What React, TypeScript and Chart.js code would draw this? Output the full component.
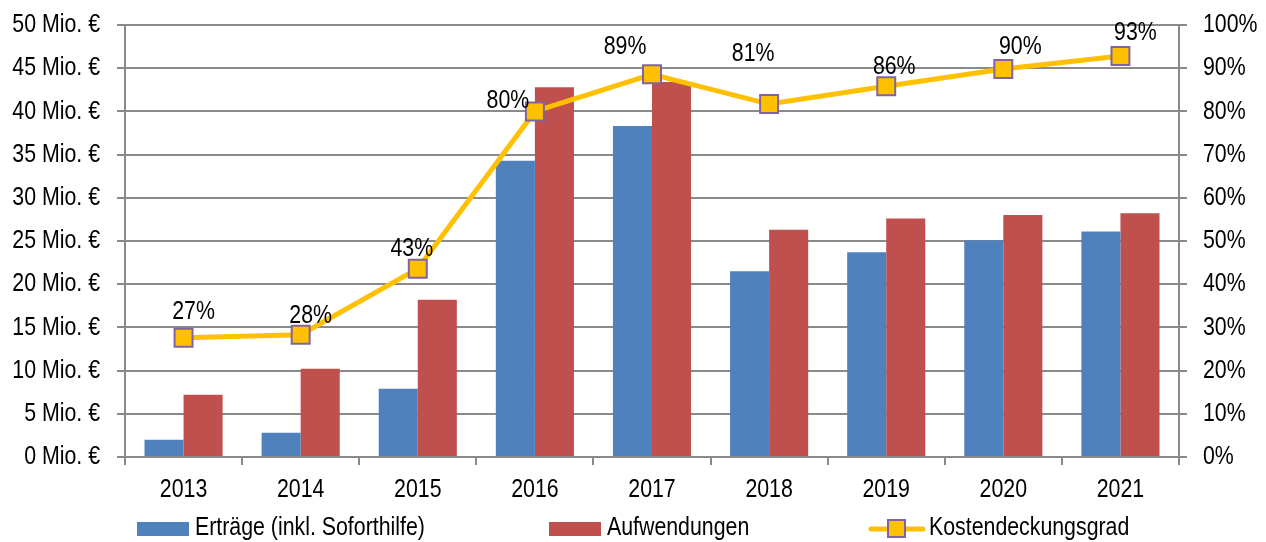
import React, { useEffect, useRef } from "react";
import { Chart, registerables } from "chart.js";

Chart.register(...registerables);

const years = ["2013", "2014", "2015", "2016", "2017", "2018", "2019", "2020", "2021"];
const ertraege = [2.0, 2.8, 7.9, 34.3, 38.3, 21.5, 23.7, 25.1, 26.1];
const aufwendungen = [7.2, 10.2, 18.2, 42.8, 43.4, 26.3, 27.6, 28.0, 28.2];
const deckung = [27.6, 28.3, 43.6, 80.0, 88.6, 81.7, 85.8, 89.8, 92.8];
const deckungLabels = ["27%", "28%", "43%", "80%", "89%", "81%", "86%", "90%", "93%"];

const seriesNames = ["Erträge (inkl. Soforthilfe)", "Aufwendungen", "Kostendeckungsgrad"];
const leftTickSuffix = " Mio. €";
const rightTickSuffix = "%";

// label placement offsets (style, relative to point)
const labelShift: [number, number][] = [
  [10, -26], [10, -19], [-6, -20], [-27, -11], [-27, -27], [-16, -50], [8, -20], [17, -22], [15, -23],
];

const FONT = "'Liberation Sans', Arial, sans-serif";
const FS = 26;
const NARROW = 0.82;
const BLUE = "#4F81BD";
const RED = "#C0504D";
const GOLD = "#FFC000";
const PURPLE = "#8064A2";
const GRID = "#8a8a8a";

function narrowText(ctx: CanvasRenderingContext2D, text: string, x: number, y: number, align: CanvasTextAlign) {
  ctx.save();
  ctx.translate(x, y);
  ctx.scale(NARROW, 1);
  ctx.textAlign = align;
  ctx.fillText(text, 0, 0);
  ctx.restore();
}

const textPlugin = {
  id: "narrowTexts",
  afterDraw(chart: any) {
    const ctx: CanvasRenderingContext2D = chart.ctx;
    ctx.save();
    ctx.font = `${FS}px ${FONT}`;
    ctx.fillStyle = "#000";
    ctx.textBaseline = "middle";
    const ys = chart.scales.y;
    const y1 = chart.scales.y1;
    const xs = chart.scales.x;
    ys.ticks.forEach((t: any) => {
      narrowText(ctx, `${t.value}${leftTickSuffix}`, ys.right - 8 - 17, ys.getPixelForValue(t.value), "right");
    });
    y1.ticks.forEach((t: any) => {
      narrowText(ctx, `${t.value}${rightTickSuffix}`, y1.left + 8 + 16, y1.getPixelForValue(t.value), "left");
    });
    years.forEach((lab, i) => {
      narrowText(ctx, lab, xs.getPixelForValue(i), xs.top + 33, "center");
    });
    // percentage labels
    const meta = chart.getDatasetMeta(2);
    meta.data.forEach((pt: any, i: number) => {
      const [dx, dy] = labelShift[i];
      narrowText(ctx, deckungLabels[i], pt.x + dx, pt.y + dy, "center");
    });
    // legend
    const cy = 528;
    ctx.fillStyle = BLUE;
    ctx.fillRect(137, 522, 52, 14);
    ctx.fillStyle = "#000";
    narrowText(ctx, seriesNames[0], 195, cy, "left");
    ctx.fillStyle = RED;
    ctx.fillRect(549, 522, 52, 14);
    ctx.fillStyle = "#000";
    narrowText(ctx, seriesNames[1], 607, cy, "left");
    ctx.strokeStyle = GOLD;
    ctx.lineWidth = 5;
    ctx.lineCap = "round";
    ctx.beginPath();
    ctx.moveTo(871, 529);
    ctx.lineTo(923, 529);
    ctx.stroke();
    ctx.fillStyle = GOLD;
    ctx.fillRect(888, 520, 17, 17);
    ctx.strokeStyle = PURPLE;
    ctx.lineWidth = 2;
    ctx.strokeRect(888, 520, 17, 17);
    ctx.fillStyle = "#000";
    narrowText(ctx, seriesNames[2], 929, cy, "left");
    ctx.restore();
  },
};

export default function App() {
  const ref = useRef<HTMLCanvasElement | null>(null);
  useEffect(() => {
    if (!ref.current) return;
    const chart = new Chart(ref.current, {
      type: "bar",
      data: {
        labels: years,
        datasets: [
          {
            type: "bar",
            label: seriesNames[0],
            data: ertraege,
            backgroundColor: BLUE,
            yAxisID: "y",
            order: 2,
            categoryPercentage: 0.667,
            barPercentage: 1,
          },
          {
            type: "bar",
            label: seriesNames[1],
            data: aufwendungen,
            backgroundColor: RED,
            yAxisID: "y",
            order: 2,
            categoryPercentage: 0.667,
            barPercentage: 1,
          },
          {
            type: "line",
            label: seriesNames[2],
            data: deckung,
            yAxisID: "y1",
            order: 0,
            borderColor: GOLD,
            borderWidth: 5,
            backgroundColor: GOLD,
            pointStyle: "rect",
            pointRadius: 12.7,
            pointBorderColor: PURPLE,
            pointBorderWidth: 2,
            pointBackgroundColor: GOLD,
            tension: 0,
          } as any,
        ],
      },
      options: {
        animation: false,
        responsive: true,
        maintainAspectRatio: false,
        layout: { padding: { top: 25, left: 0, right: 0, bottom: 0 } },
        plugins: {
          legend: { display: false },
          tooltip: { enabled: false },
        },
        scales: {
          x: {
            grid: {
              display: true,
              drawOnChartArea: false,
              drawTicks: true,
              tickLength: 8,
              offset: true,
              color: GRID,
              lineWidth: 2,
            },
            border: { display: false },
            ticks: { display: false },
            afterFit(scale: any) {
              scale.height = 85;
            },
          },
          y: {
            position: "left",
            min: 0,
            max: 50,
            grid: { color: GRID, lineWidth: 2, tickLength: 8, drawTicks: true },
            border: { display: true, color: GRID, width: 2 },
            ticks: { stepSize: 5, display: false },
            afterFit(scale: any) {
              scale.width = 125;
            },
          },
          y1: {
            position: "right",
            min: 0,
            max: 100,
            grid: { drawOnChartArea: false, color: GRID, lineWidth: 2, tickLength: 8, drawTicks: true },
            border: { display: true, color: GRID, width: 2 },
            ticks: { stepSize: 10, display: false },
            afterFit(scale: any) {
              scale.width = 87;
            },
          },
        },
      },
      plugins: [textPlugin],
    });
    return () => chart.destroy();
  }, []);
  return (
    <div style={{ position: "fixed", left: 0, top: 0, width: 1266, height: 542, background: "#fff" }}>
      <canvas ref={ref} />
    </div>
  );
}
